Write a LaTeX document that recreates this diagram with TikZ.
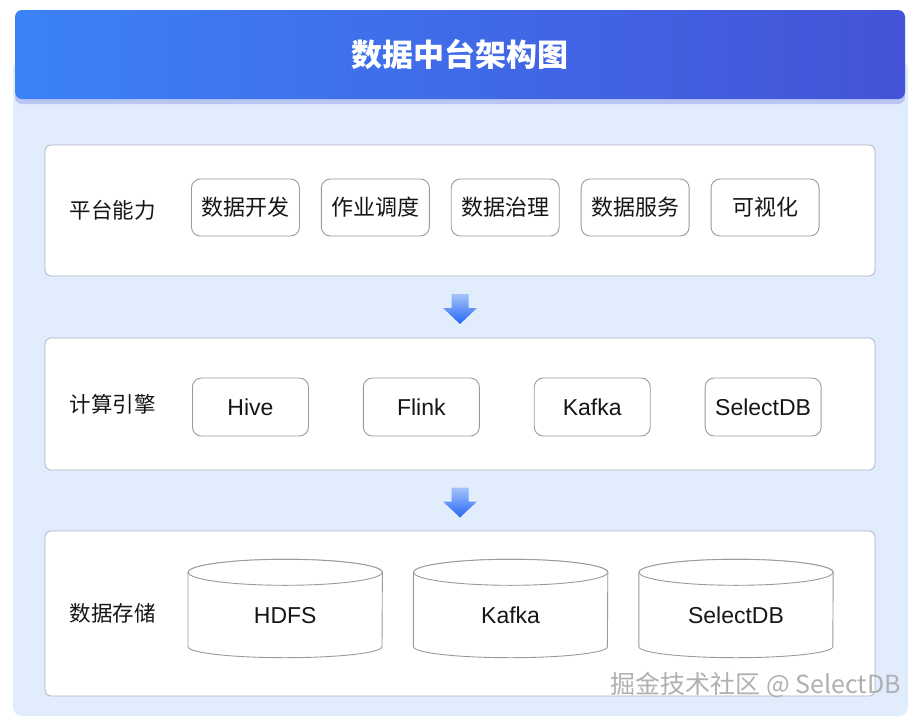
\documentclass[tikz,border=0pt]{standalone}
\usepackage{fontspec}
\setmainfont{Noto Sans CJK SC}
\newfontfamily\latinfont{Liberation Sans}
\usetikzlibrary{calc, positioning, shadows}
\definecolor{boardbg}{HTML}{E1ECFD}
\definecolor{titleleft}{HTML}{3C82F8}
\definecolor{titleright}{HTML}{4453D8}
\definecolor{boxline}{HTML}{9A9A9A}
\definecolor{layerline}{HTML}{AEB3C4}
\definecolor{arrowtop}{HTML}{A4C3F9}
\definecolor{arrowbottom}{HTML}{2567F6}
\definecolor{textdark}{HTML}{161616}
\tikzset{
	px/.style={x=1pt,y=-1pt},
	titlebar/.style={
		rectangle, rounded corners=7pt,
		left color=titleleft, right color=titleright,
		minimum width=890pt, minimum height=89pt,
		text=white, font=\bfseries\fontsize{31}{36}\selectfont,
		drop shadow={shadow xshift=0pt, shadow yshift=-5pt, opacity=0.25, fill=titleright}
	},
	layer/.style={
		rectangle, rounded corners=6pt,
		draw=layerline, line width=0.8pt, fill=white,
		minimum width=830pt
	},
	layerlbl/.style={inner sep=0pt, text=textdark, font=\fontsize{21.5}{26}\selectfont},
	capbox/.style={
		rectangle, rounded corners=9pt,
		draw=boxline, line width=0.9pt, fill=white, text=textdark,
		minimum width=108pt, minimum height=57pt, inner sep=0pt,
		font=\fontsize{22}{26}\selectfont
	},
	engbox/.style={capbox, minimum width=116pt, minimum height=58pt,
		font=\latinfont\fontsize{23}{27}\selectfont},
	store/.style={inner sep=0pt, minimum width=194pt, minimum height=98pt,
		text=textdark, font=\latinfont\fontsize{23}{27}\selectfont},
	cyl/.style={draw=boxline, line width=0.9pt, fill=white},
	flow/.style={top color=arrowtop, bottom color=arrowbottom}
}

\begin{document}
\begin{tikzpicture}[px]

	\useasboundingbox (0,0) rectangle (921,720);

	% background board and title
	\fill[boardbg, rounded corners=9pt] (13,60) rectangle (908,716);
	\node[titlebar] (title) at (460,54.5) {数据中台架构图};

	% layers
	\node[layer, minimum height=131pt] (lyrplat)  at (460,210.5) {};
	\node[layer, minimum height=132pt] (lyreng)   at (460,404)   {};
	\node[layer, minimum height=165pt] (lyrstore) at (460,613.5) {};

	\node[layerlbl, right=25pt of lyrplat.west]  (platlbl)  {平台能力};
	\node[layerlbl, right=25pt of lyreng.west]   (englbl)   {计算引擎};
	\node[layerlbl, right=25pt of lyrstore.west] (storelbl) {数据存储};

	% platform capabilities
	\node[capbox, right=35pt of platlbl, yshift=3pt] (dev)   {数据开发};
	\node[capbox, right=21pt of dev]                 (sched) {作业调度};
	\node[capbox, right=21pt of sched]               (gov)   {数据治理};
	\node[capbox, right=21pt of gov]                 (svc)   {数据服务};
	\node[capbox, right=21pt of svc]                 (vis)   {可视化};

	% compute engines
	\node[engbox, right=36pt of englbl, yshift=-3pt] (hive)   {Hive};
	\node[engbox, right=54pt of hive]                (flink)  {Flink};
	\node[engbox, right=54pt of flink]               (kafka)  {Kafka};
	\node[engbox, right=54pt of kafka]               (sdb)    {SelectDB};

	% storage
	\node[store, right=32pt of storelbl, yshift=5pt] (hdfs)    {};
	\node[store, right=31pt of hdfs]                 (kafkadb) {};
	\node[store, right=31pt of kafkadb]              (sdbdb)   {};

	\foreach \cyl/\name in {hdfs/HDFS, kafkadb/Kafka, sdbdb/SelectDB}
	{
		\filldraw[cyl] ($(\cyl.north west)+(0,13)$) -- ($(\cyl.south west)+(0,-11)$)
			arc[start angle=180, end angle=360, x radius=97pt, y radius=11pt]
			-- ($(\cyl.north east)+(0,13)$)
			arc[start angle=0, end angle=180, x radius=97pt, y radius=13pt] -- cycle;
		\draw[cyl] ($(\cyl.north)+(0,13)$) ellipse[x radius=97pt, y radius=13pt];
		\node[store, minimum height=0pt] at ($(\cyl.center)+(0,7)$) {\name};
	}

	% flow arrows between layers
	\foreach \up/\down in {lyrplat/lyreng, lyreng/lyrstore}
	{
		\coordinate (mid) at ($(\up.south)!0.5!(\down.north)$);
		\shade[flow] ($(mid)+(-8.5,-13)$) -- ($(mid)+(8.5,-13)$) -- ($(mid)+(8.5,1)$)
			-- ($(mid)+(17,1)$) -- ($(mid)+(0,17)$) -- ($(mid)+(-17,1)$)
			-- ($(mid)+(-8.5,1)$) -- cycle;
	}

	% watermark
	\node[anchor=east, inner sep=0pt, text=gray!62, font=\fontsize{25}{29}\selectfont]
		(mark) at (901,685) {掘金技术社区 @ SelectDB};

\end{tikzpicture}
\end{document}
